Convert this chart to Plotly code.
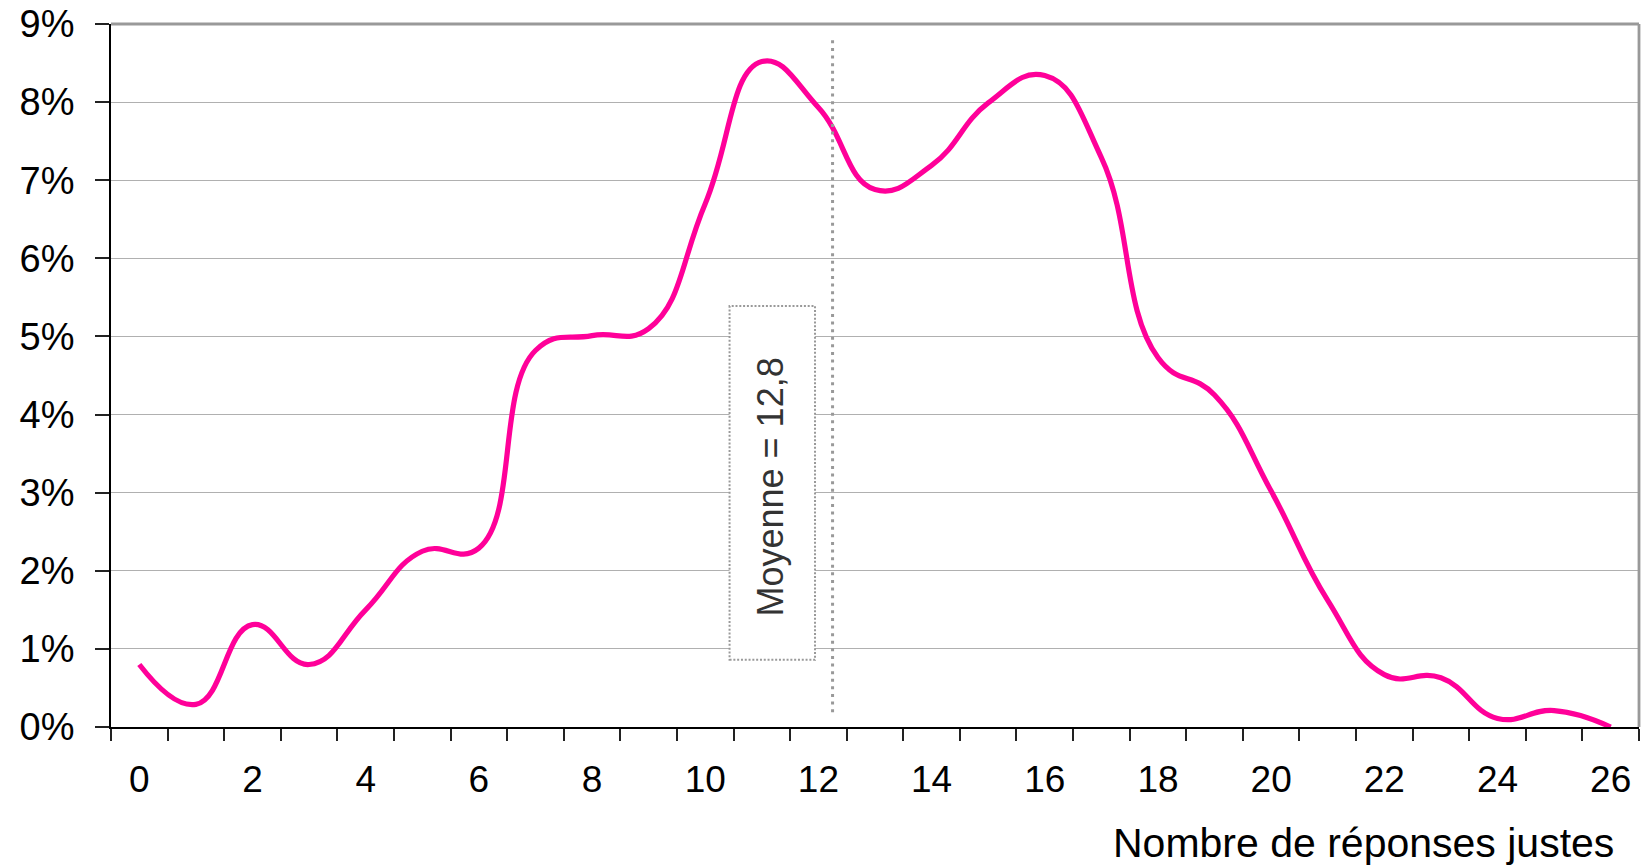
import plotly.graph_objects as go

# ---- data ----
categories = list(range(27))
pct = [0.80, 0.29, 1.31, 0.80, 1.50, 2.25, 2.29, 4.82, 5.01, 5.10,
       6.70, 8.52, 7.93, 6.88, 7.19, 7.99, 8.34, 7.29, 4.73, 4.25,
       3.02, 1.62, 0.67, 0.63, 0.11, 0.21, 0.00]
x_tick_vals = list(range(0, 27, 2))
y_tick_vals = list(range(0, 10))
mean_value = 12.8
mean_label = "Moyenne = 12,8"
x_title = "Nombre de réponses justes"

FONT = "Liberation Sans, Arial, sans-serif"
PINK = "#FF0099"
GRAY = "#999999"

fig = go.Figure()
fig.add_trace(go.Scatter(
    x=categories, y=pct, mode="lines",
    line=dict(color=PINK, width=5.2, shape="spline", smoothing=1.3),
    hoverinfo="skip", showlegend=False,
))

# mean position on the category axis (axis origin at left edge)
mean_x = mean_value - 0.55

shapes = [
    # mean dotted line
    dict(type="line", xref="x", yref="y", x0=mean_x, x1=mean_x, y0=0.19, y1=8.81,
         line=dict(color=GRAY, width=3, dash="3px,4.6px"), layer="above"),
    # label box
    dict(type="rect", xref="x", yref="y", x0=10.43, x1=11.94, y0=0.86, y1=5.39,
         fillcolor="white", line=dict(color=GRAY, width=2, dash="2px,1.8px"),
         layer="above"),
    # top border
    dict(type="line", xref="paper", yref="paper", x0=0, x1=1, y0=1, y1=1,
         line=dict(color=GRAY, width=2.8), layer="above"),
    # right border
    dict(type="line", xref="paper", yref="paper", x0=1, x1=1, y0=0, y1=1,
         line=dict(color=GRAY, width=2.8), layer="above"),
]

annotations = [
    dict(text=mean_label, x=11.15, y=3.07, xref="x", yref="y", showarrow=False,
         textangle=-90, font=dict(family=FONT, size=36, color="#333333"),
         xanchor="center", yanchor="middle"),
    dict(text=x_title, xref="paper", yref="paper", x=0.985, y=-0.165,
         xanchor="right", yanchor="middle", showarrow=False,
         font=dict(family=FONT, size=41, color="black")),
]

fig.update_layout(
    width=1641, height=868,
    margin=dict(l=111, r=2, t=24, b=141),
    paper_bgcolor="white", plot_bgcolor="white",
    font=dict(family=FONT, size=37, color="black"),
    shapes=shapes, annotations=annotations,
    showlegend=False,
)

fig.update_xaxes(
    range=[-0.5, 26.5], tickmode="array", tickvals=x_tick_vals,
    ticktext=[str(v) for v in x_tick_vals], ticks="",
    ticklabelstandoff=19,
    tickfont=dict(family=FONT, size=37, color="black"),
    showgrid=False, zeroline=False,
    showline=True, linecolor="black", linewidth=1.8,
    minor=dict(tickmode="linear", tick0=-0.5, dtick=1, ticks="outside",
               ticklen=12, tickwidth=1.6, tickcolor="#222222", showgrid=False),
)

fig.update_yaxes(
    range=[0, 9], tickmode="array", tickvals=y_tick_vals,
    ticktext=[f"{v}%" for v in y_tick_vals],
    ticks="outside", ticklen=14, tickwidth=1.6, tickcolor="#222222",
    ticklabelstandoff=13,
    tickfont=dict(family=FONT, size=38, color="black"),
    showgrid=True, gridcolor="#b0b0b0", gridwidth=1.3,
    zeroline=False, showline=True, linecolor="black", linewidth=1.8,
)

fig.write_html("out.html", config={"displayModeBar": False},
               post_script="document.body.style.margin='0';")
